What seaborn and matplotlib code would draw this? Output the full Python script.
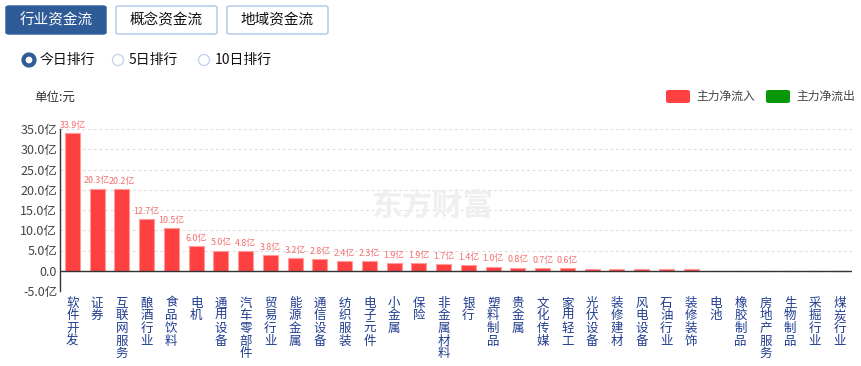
import pandas as pd
import seaborn as sns
import numpy as np
import matplotlib.pyplot as plt
from matplotlib.patches import FancyBboxPatch, Ellipse

sns.set_style('white')
plt.rcParams['font.family'] = ['Noto Sans CJK SC', 'DejaVu Sans']
plt.rcParams['axes.unicode_minus'] = False

# 行业资金流 - 今日排行 (亿元)
industries = ['软件开发', '证券', '互联网服务', '酿酒行业', '食品饮料', '电机', '通用设备',
              '汽车零部件', '贸易行业', '能源金属', '通信设备', '纺织服装', '电子元件', '小金属',
              '保险', '非金属材料', '银行', '塑料制品', '贵金属', '文化传媒', '家用轻工',
              '光伏设备', '装修建材', '风电设备', '石油行业', '装修装饰', '电池', '橡胶制品',
              '房地产服务', '生物制品', '采掘行业', '煤炭行业']
net_flow = [33.9, 20.3, 20.2, 12.7, 10.5, 6.0, 5.0, 4.8, 3.8, 3.2, 2.8, 2.4, 2.3, 1.9,
            1.9, 1.7, 1.4, 1.0, 0.8, 0.7, 0.6,
            0.5, 0.5, 0.5, 0.4, 0.35, 0.05, 0.0, -0.08, -0.08, -0.08, -0.08]
n_labeled = 21
yticks = [-5, 0, 5, 10, 15, 20, 25, 30, 35]

RED = '#ff4040'
GREEN = '#069806'
BLUE = '#2f5b97'

df = pd.DataFrame({'行业': industries, '净流入': net_flow})
df['方向'] = np.where(df['净流入'] >= 0, '主力净流入', '主力净流出')

W, H = 861, 366
fig = plt.figure(figsize=(W / 100, H / 100), dpi=100)

def fx(px):
    return px / W

def fy(py):
    return 1 - py / H

ax = fig.add_axes([fx(60), fy(291), fx(852) - fx(60), fy(129) - fy(291)])

sns.barplot(data=df, x='行业', y='净流入', hue='方向',
            palette={'主力净流入': RED, '主力净流出': GREEN}, saturation=1,
            dodge=False, legend=False, width=0.6, ax=ax,
            edgecolor='#ff9a9a', linewidth=0.8)
for p, v in zip(ax.patches, net_flow):
    if v < 0:
        p.set_edgecolor(GREEN)

ax.set_xlim(-0.5, len(industries) - 0.5)
ax.set_ylim(-5, 35)
ax.set_yticks(yticks)
ax.set_yticklabels(['0.0' if t == 0 else f'{t:.1f}亿' for t in yticks],
                   fontsize=9, color='#444444')
ax.set_xticks(range(len(industries)))
ax.set_xticklabels(['\n'.join(s) for s in industries], fontsize=9,
                   color='#203c8f', va='top', linespacing=0.97)
ax.tick_params(axis='both', length=0)
ax.tick_params(axis='x', pad=4)
ax.tick_params(axis='y', pad=2)
ax.set_xlabel('')
ax.set_ylabel('')

for t in yticks:
    if t != 0:
        ax.axhline(t, color='#dddddd', lw=0.8, ls=(0, (2.5, 2.5)), zorder=0)
ax.axhline(0, color='#333333', lw=1.0, zorder=3)

for s in ['top', 'right', 'bottom']:
    ax.spines[s].set_visible(False)
ax.spines['left'].set_color('#333333')
ax.spines['left'].set_linewidth(1.0)

for i, v in enumerate(net_flow[:n_labeled]):
    ax.text(i, v + 0.8, f'{v:.1f}亿', ha='center', va='bottom',
            fontsize=6.4, color='#f26d6d')

# watermark
fig.text(fx(432), fy(206), '东方财富', fontsize=22, fontweight='bold',
         color='#efefef', ha='center', va='center', zorder=0)

# top buttons
buttons = [('行业资金流', 6, 106, True), ('概念资金流', 116, 217, False),
           ('地域资金流', 227, 328, False)]
for label, x0, x1, active in buttons:
    box = FancyBboxPatch((fx(x0), fy(34)), fx(x1) - fx(x0), fy(6) - fy(34),
                         boxstyle='round,pad=0,rounding_size=0.004',
                         transform=fig.transFigure,
                         facecolor=BLUE if active else 'white',
                         edgecolor=BLUE if active else '#aac8e6', lw=1)
    fig.add_artist(box)
    fig.text(fx((x0 + x1) / 2), fy(20), label, ha='center', va='center',
             fontsize=10.5, color='white' if active else '#111111')

# radio row
radios = [('今日排行', 29, True), ('5日排行', 118, False), ('10日排行', 204, False)]
for label, cx, on in radios:
    fig.add_artist(Ellipse((fx(cx), fy(60)), 11 / W, 11 / H, transform=fig.transFigure,
                           facecolor='white', edgecolor=BLUE if on else '#c5d5e8',
                           lw=3.0 if on else 1.0))
    fig.text(fx(cx + 11), fy(60), label, ha='left', va='center',
             fontsize=10, color='#111111')

fig.text(fx(34), fy(97), '单位:元', ha='left', va='center', fontsize=9, color='#333333')

# legend
for label, x0, c in [('主力净流入', 666, RED), ('主力净流出', 766, GREEN)]:
    fig.add_artist(FancyBboxPatch((fx(x0), fy(103)), fx(24), fy(90) - fy(103),
                                  boxstyle='round,pad=0,rounding_size=0.004',
                                  transform=fig.transFigure, facecolor=c,
                                  edgecolor='none'))
    fig.text(fx(x0 + 30), fy(96.5), label, ha='left', va='center',
             fontsize=8.5, color='#444444')

fig.savefig('out.png', dpi=100)
